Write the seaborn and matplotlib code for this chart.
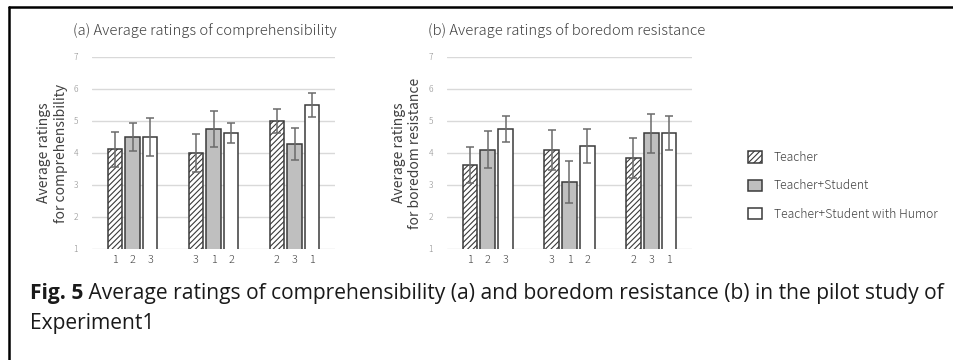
import numpy as np
import pandas as pd
import matplotlib
matplotlib.use("Agg")
import matplotlib.pyplot as plt
from matplotlib.lines import Line2D
import seaborn as sns

# ---------------- data ----------------
groups = ["G1", "G2", "G3"]
conditions = ["Teacher", "Teacher+Student", "Teacher+Student with Humor"]

comp_teacher = [4.12, 4.00, 5.00]
comp_ts = [4.50, 4.75, 4.28]
comp_tsh = [4.50, 4.63, 5.50]
comp_err_teacher = [0.55, 0.60, 0.37]
comp_err_ts = [0.44, 0.56, 0.51]
comp_err_tsh = [0.58, 0.31, 0.37]

bore_teacher = [3.62, 4.10, 3.84]
bore_ts = [4.10, 3.10, 4.62]
bore_tsh = [4.74, 4.22, 4.62]
bore_err_teacher = [0.56, 0.63, 0.62]
bore_err_ts = [0.58, 0.66, 0.61]
bore_err_tsh = [0.41, 0.52, 0.54]

# per-bar labels, in order of position (group by group)
comp_tick_labels = ["1", "2", "3", "3", "1", "2", "2", "3", "1"]
bore_tick_labels = ["1", "2", "3", "3", "1", "2", "2", "3", "1"]

y_ticks = [1, 2, 3, 4, 5, 6, 7]

titles = ["(a) Average ratings of comprehensibility",
          "(b) Average ratings of boredom resistance"]
ylabels = ["Average ratings\nfor comprehensibility",
           "Average ratings\nfor boredom resistance"]
caption_bold = "Fig. 5"
caption_rest = " Average ratings of comprehensibility (a) and boredom resistance (b) in the pilot study of"
caption_line2 = "Experiment1"


def make_df(t, ts, tsh, et, ets, etsh):
    rows = []
    for vals, errs, cond in ((t, et, conditions[0]), (ts, ets, conditions[1]), (tsh, etsh, conditions[2])):
        for g, v, e in zip(groups, vals, errs):
            rows.append({"group": g, "condition": cond, "value": v, "err": e})
    return pd.DataFrame(rows)


df_comp = make_df(comp_teacher, comp_ts, comp_tsh, comp_err_teacher, comp_err_ts, comp_err_tsh)
df_bore = make_df(bore_teacher, bore_ts, bore_tsh, bore_err_teacher, bore_err_ts, bore_err_tsh)

# ---------------- style ----------------
sns.set_theme(style="white")
plt.rcParams["font.family"] = ["Noto Sans CJK JP", "DejaVu Sans"]
plt.rcParams["font.weight"] = "light"
plt.rcParams["hatch.linewidth"] = 0.8

W, H = 954, 360
fig = plt.figure(figsize=(W / 100, H / 100), dpi=100)
fig.patch.set_facecolor("white")

edge = "#3a3a3a"
palette = {conditions[0]: "white", conditions[1]: "#bfbfbf", conditions[2]: "white"}

axes_px = [(92, 335), (447, 692)]
y_top_px, y_bot_px = 57, 249
title_x_px = [73, 428]

containers_for_legend = None
for i, (df, tick_labels) in enumerate(((df_comp, comp_tick_labels), (df_bore, bore_tick_labels))):
    x0, x1 = axes_px[i]
    ax = fig.add_axes([x0 / W, 1 - y_bot_px / H, (x1 - x0) / W, (y_bot_px - y_top_px) / H])
    sns.barplot(data=df, x="group", y="value", hue="condition", hue_order=conditions,
                order=groups, palette=palette, edgecolor=edge, linewidth=1.1,
                width=0.65, gap=0.17, errorbar=None, legend=False, ax=ax, zorder=2)
    bar_containers = list(ax.containers)
    centers = []
    for ci, cont in enumerate(bar_containers):
        sub = df[df["condition"] == conditions[ci]].set_index("group").loc[groups]
        for bar, (_, row) in zip(cont, sub.iterrows()):
            if ci == 0:
                bar.set_hatch("//////")
            cx = bar.get_x() + bar.get_width() / 2
            ax.errorbar(cx, row["value"], yerr=row["err"], fmt="none", ecolor="#6b6b6b",
                        elinewidth=1.1, capsize=3, capthick=1.1, zorder=3)
            centers.append(cx)
    ax.set_xticks(np.sort(centers))
    ax.set_xticklabels(tick_labels, fontsize=7.8, color="#404040")
    ax.set_xlim(-0.5, 2.5)
    ax.set_ylim(1, 7)
    ax.set_yticks(y_ticks)
    ax.set_yticklabels([str(v) for v in y_ticks], fontsize=6, color="#8c8c8c")
    ax.tick_params(axis="both", length=0, pad=4)
    ax.tick_params(axis="y", pad=10)
    ax.yaxis.grid(True, color="#d9d9d9", linewidth=1, zorder=0)
    ax.set_axisbelow(True)
    for s in ax.spines.values():
        s.set_visible(False)
    ax.set_xlabel("")
    ax.set_ylabel(ylabels[i], fontsize=10, color="#404040", linespacing=1.2)
    ax.yaxis.set_label_coords(-0.1, 0.5)
    ax.set_facecolor("white")
    fig.text(title_x_px[i] / W, 1 - 31 / H, titles[i], fontsize=10.6, color="#404040",
             ha="left", va="center")
    if containers_for_legend is None:
        containers_for_legend = bar_containers

leg = fig.legend(handles=containers_for_legend, labels=conditions, loc="upper left",
                 bbox_to_anchor=(742 / W, 1 - 145 / H), frameon=False, fontsize=8.8,
                 handlelength=1.15, handleheight=1.05, labelspacing=1.25, handletextpad=0.95,
                 borderpad=0)
for t in leg.get_texts():
    t.set_color("#404040")

# caption (fit first line to the reference width)
renderer = fig.canvas.get_renderer()
cap_font = ["Open Sans", "DejaVu Sans"]
cap_x0, cap_x1 = 30, 942
fs = 12.0
probe_b = fig.text(0, 0, caption_bold, fontsize=fs, fontweight="bold", family=cap_font)
probe_r = fig.text(0, 0, caption_rest, fontsize=fs, fontweight="normal", family=cap_font)
wtot = probe_b.get_window_extent(renderer).width + probe_r.get_window_extent(renderer).width
probe_b.remove()
probe_r.remove()
fs = fs * (cap_x1 - cap_x0) / wtot
tb = fig.text(cap_x0 / W, 1 - 293 / H, caption_bold, fontsize=fs, fontweight="bold",
              family=cap_font, ha="left", va="center", color="#1a1a1a")
bb = tb.get_window_extent(renderer)
fig.text(bb.x1 / W, 1 - 293 / H, caption_rest, fontsize=fs, fontweight="normal",
         family=cap_font, ha="left", va="center", color="#1a1a1a")
fig.text(cap_x0 / W, 1 - 323 / H, caption_line2, fontsize=fs, fontweight="normal",
         family=cap_font, ha="left", va="center", color="#1a1a1a")

# frame lines (top and left)
fig.add_artist(Line2D([9 / W, 1], [1 - 7 / H, 1 - 7 / H], color="black", linewidth=1.8,
                      transform=fig.transFigure))
fig.add_artist(Line2D([9 / W, 9 / W], [1 - 7 / H, 0], color="black", linewidth=1.8,
                      transform=fig.transFigure))

fig.savefig("out.png", dpi=100, facecolor="white")
